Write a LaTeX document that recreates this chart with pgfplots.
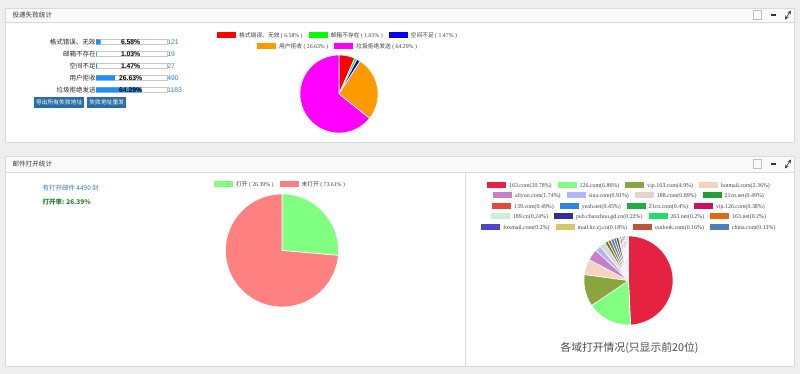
\documentclass[border=0pt]{standalone}
\usepackage{pgfplots}
\pgfplotsset{compat=1.18}
\usepackage{pgfplotstable}
\usepackage{fontspec}
\setmainfont{Noto Sans CJK SC}
\newfontfamily\serif{Liberation Serif}
\newfontfamily\arial{Liberation Sans}

\definecolor{bgcol}{HTML}{EEEEEE}
\definecolor{panelborder}{HTML}{D9D9D9}
\definecolor{headbg}{HTML}{FAFAFA}
\definecolor{barblue}{HTML}{1E8FF5}
\definecolor{linkblue}{HTML}{3A7BBF}
\definecolor{btnblue}{HTML}{2B6DA6}
\definecolor{okgreen}{HTML}{2E7D32}
% pie 1
\definecolor{pA}{HTML}{FF0000}
\definecolor{pB}{HTML}{00FF00}
\definecolor{pC}{HTML}{0000FF}
\definecolor{pD}{HTML}{FF9900}
\definecolor{pE}{HTML}{FF00FF}
% pie 2
\definecolor{oA}{HTML}{80FF80}
\definecolor{oB}{HTML}{FF8080}
% pie 3
\definecolor{d01}{HTML}{E62242}
\definecolor{d02}{HTML}{80FF80}
\definecolor{d03}{HTML}{8AA440}
\definecolor{d04}{HTML}{F5D3BD}
\definecolor{d05}{HTML}{C77FC8}
\definecolor{d06}{HTML}{B0B6FF}
\definecolor{d07}{HTML}{E3D4CC}
\definecolor{d08}{HTML}{1F9E3A}
\definecolor{d09}{HTML}{E84A3A}
\definecolor{d10}{HTML}{2F86E0}
\definecolor{d11}{HTML}{1FAE46}
\definecolor{d12}{HTML}{D0105C}
\definecolor{d13}{HTML}{CDEED8}
\definecolor{d14}{HTML}{3A2A98}
\definecolor{d15}{HTML}{1EE06A}
\definecolor{d16}{HTML}{E06A10}
\definecolor{d17}{HTML}{4A48C8}
\definecolor{d18}{HTML}{D2C868}
\definecolor{d19}{HTML}{C05438}
\definecolor{d20}{HTML}{4E80B8}

\pgfplotstableread{
row value count color
1 6.58 121 pA
2 1.03 19 pB
3 1.47 27 pC
4 26.63 490 pD
5 64.29 1183 pE
}\failtable

\pgfplotstableread{
value color
26.39 oA
73.61 oB
}\opentable

\pgfplotstableread{
domain value color
163.com 20.78 d01
126.com 6.86 d02
vip.163.com 4.9 d03
hotmail.com 2.36 d04
aliyun.com 1.74 d05
sina.com 0.91 d06
188.com 0.89 d07
21cn.net 0.49 d08
139.com 0.49 d09
yeah.net 0.45 d10
21cn.com 0.4 d11
vip.126.com 0.38 d12
189.cn 0.24 d13
pub.chaozhou.gd.cn 0.22 d14
263.net 0.2 d15
163.net 0.2 d16
foxmail.com 0.2 d17
mail.hz.zj.cn 0.18 d18
outlook.com 0.16 d19
china.com 0.13 d20
}\domaintable

% pie drawn from a table (column value, column color), clockwise from 12 o'clock
\newcommand\drawpie[1]{%
  \pgfplotstablegetrowsof{#1}%
  \pgfmathtruncatemacro\pien{\pgfplotsretval-1}%
  \def\pietot{0}%
  \pgfplotsforeachungrouped \i in {0,...,\pien}{%
    \pgfplotstablegetelem{\i}{value}\of{#1}%
    \pgfmathsetmacro\pietot{\pietot+\pgfplotsretval}%
  }%
  \def\piecum{0}%
  \pgfplotsforeachungrouped \i in {0,...,\pien}{%
    \pgfplotstablegetelem{\i}{value}\of{#1}\let\pieval\pgfplotsretval
    \pgfplotstablegetelem{\i}{color}\of{#1}\let\piecol\pgfplotsretval
    \pgfmathsetmacro\piefa{(\piecum+\pieval)/\pietot}%
    \pgfmathsetmacro\piefb{\piecum/\pietot}%
    \pgfmathsetmacro\piea{90-360*\piefa}%
    \pgfmathsetmacro\pieb{90-360*\piefb}%
    \edef\pietmp{\noexpand\addplot[fill=\piecol, draw=white, line width=0.6pt, line join=round, domain=\piea:\pieb, samples=60] ({cos(x)},{sin(x)}) -- (0,0) -- cycle;}%
    \pietmp
    \pgfmathsetmacro\piecum{\piecum+\pieval}%
  }%
}

\newcommand\lgd[2]{\textcolor{#1}{\rule[-0.6pt]{19pt}{6.2pt}}\hspace{3pt}#2}
\newcommand\lsep{\hspace{6pt}}
\newcommand\fsz[1]{\fontsize{#1}{#1}\selectfont}

\begin{document}
\begin{tikzpicture}
\begin{scope}[x=1pt,y=-1pt]
  \fill[bgcol] (0,0) rectangle (800,374);
  % ---------- top panel ----------
  \filldraw[fill=white, draw=panelborder] (5,8) rectangle (794,142);
  \filldraw[fill=headbg, draw=panelborder] (5,8) rectangle (794,22);
  \node[anchor=west, font=\fsz{6.6}, text=black!80] at (9,15) {投递失败统计};
  \draw[black!25] (753,10.5) rectangle (761.5,19.5);
  \draw[black!80, line width=1.2pt] (771,15) -- (776,15);
  \draw[black!80, line width=0.7pt, <->, >=stealth] (785,19.5) -- (791,10.5);
  % buttons
  \node[fill=btnblue, text=white, font=\fsz{5.8}, anchor=north west, minimum height=11pt, inner xsep=1.8pt, inner ysep=0pt] at (34,97) {导出所有失败地址};
  \node[fill=btnblue, text=white, font=\fsz{5.8}, anchor=north west, minimum height=11pt, inner xsep=2.2pt, inner ysep=0pt] at (87,97) {失败地址重发};
  % pie 1 legend
  \node[font=\fsz{5.8}, text=black!75] at (337,35.5) {\lgd{pA}{格式错误、无效 {\serif( 6.58\% )}}\lsep\lgd{pB}{邮箱不存在 {\serif( 1.03\% )}}\lsep\lgd{pC}{空间不足 {\serif( 1.47\% )}}};
  \node[font=\fsz{5.8}, text=black!75] at (337,46.5) {\lgd{pD}{用户拒收 {\serif( 26.63\% )}}\lsep\lgd{pE}{垃圾拒绝发送 {\serif( 64.29\% )}}};

  % ---------- bottom panel ----------
  \filldraw[fill=white, draw=panelborder] (5,156) rectangle (794,366);
  \filldraw[fill=headbg, draw=panelborder] (5,156) rectangle (794,172);
  \draw[panelborder] (465,172) -- (465,366);
  \node[anchor=west, font=\fsz{6.6}, text=black!80] at (9,164) {邮件打开统计};
  \draw[black!25] (753,159.5) rectangle (761.5,168.5);
  \draw[black!80, line width=1.2pt] (771,164) -- (776,164);
  \draw[black!80, line width=0.7pt, <->, >=stealth] (785,168.5) -- (791,159.5);
  \node[anchor=west, font=\fsz{6.5}, text=linkblue] at (39,188.5) {有打开邮件 4490 封};
  \node[anchor=west, font=\fsz{6.5}\bfseries, text=okgreen] at (39,202) {打开率: 26.39\%};
  % pie 2 legend
  \node[font=\fsz{5.8}, text=black!75] at (279.5,184.5) {\lgd{oA}{打开 {\serif( 26.39\% )}}\lsep\lgd{oB}{未打开 {\serif( 73.61\% )}}};
  % pie 3 legend
  \begin{scope}[every node/.style={font=\serif\fsz{5.9}, text=black!75}]
  \node at (628.5,185) {\lgd{d01}{163.com(20.78\%)}\lsep\lgd{d02}{126.com(6.86\%)}\lsep\lgd{d03}{vip.163.com(4.9\%)}\lsep\lgd{d04}{hotmail.com(2.36\%)}};
  \node at (628.5,195.5) {\lgd{d05}{aliyun.com(1.74\%)}\lsep\lgd{d06}{sina.com(0.91\%)}\lsep\lgd{d07}{188.com(0.89\%)}\lsep\lgd{d08}{21cn.net(0.49\%)}};
  \node at (628.5,206) {\lgd{d09}{139.com(0.49\%)}\lsep\lgd{d10}{yeah.net(0.45\%)}\lsep\lgd{d11}{21cn.com(0.4\%)}\lsep\lgd{d12}{vip.126.com(0.38\%)}};
  \node at (628.5,216.5) {\lgd{d13}{189.cn(0.24\%)}\lsep\lgd{d14}{pub.chaozhou.gd.cn(0.22\%)}\lsep\lgd{d15}{263.net(0.2\%)}\lsep\lgd{d16}{163.net(0.2\%)}};
  \node at (628.5,227) {\lgd{d17}{foxmail.com(0.2\%)}\lsep\lgd{d18}{mail.hz.zj.cn(0.18\%)}\lsep\lgd{d19}{outlook.com(0.16\%)}\lsep\lgd{d20}{china.com(0.13\%)}};
  \end{scope}
  \node[font=\fsz{10.8}, text=black!70] at (629.5,347.5) {各域打开情况(只显示前20位)};
\end{scope}

% ---------- failure bars ----------
\begin{axis}[at={(96pt,-36pt)}, anchor=north west, scale only axis,
  width=70.7pt, height=60pt, xmin=0, xmax=100, ymin=0.5, ymax=5.5,
  y dir=reverse, enlargelimits=false, clip=false,
  axis line style={draw=none}, xtick=\empty, ytick={1,2,3,4,5},
  yticklabels={格式错误、无效,邮箱不存在,空间不足,用户拒收,垃圾拒绝发送},
  major tick length=0pt,
  yticklabel style={font=\fsz{6.5}, text=black!85, inner sep=0.3pt},
  xbar, bar width=5pt, bar shift=0pt]
  \addplot[fill=white, draw=black!22] coordinates {(100,1) (100,2) (100,3) (100,4) (100,5)};
  \addplot[fill=barblue, draw=none] table[x=value, y=row] {\failtable};
  \node[font=\arial\bfseries\fsz{6.8}] at (axis cs:49,1) {6.58\%};
  \node[font=\arial\bfseries\fsz{6.8}] at (axis cs:49,2) {1.03\%};
  \node[font=\arial\bfseries\fsz{6.8}] at (axis cs:49,3) {1.47\%};
  \node[font=\arial\bfseries\fsz{6.8}] at (axis cs:49,4) {26.63\%};
  \node[font=\arial\bfseries\fsz{6.8}] at (axis cs:49,5) {64.29\%};
  \node[anchor=west, inner sep=0.5pt, font=\arial\fsz{6.8}, text=linkblue] at (axis cs:100,1) {121};
  \node[anchor=west, inner sep=0.5pt, font=\arial\fsz{6.8}, text=linkblue] at (axis cs:100,2) {19};
  \node[anchor=west, inner sep=0.5pt, font=\arial\fsz{6.8}, text=linkblue] at (axis cs:100,3) {27};
  \node[anchor=west, inner sep=0.5pt, font=\arial\fsz{6.8}, text=linkblue] at (axis cs:100,4) {490};
  \node[anchor=west, inner sep=0.5pt, font=\arial\fsz{6.8}, text=linkblue] at (axis cs:100,5) {1183};
\end{axis}

% ---------- pie 1 ----------
\begin{axis}[at={(339pt,-94pt)}, anchor=center, scale only axis, width=78pt, height=78pt,
  xmin=-1, xmax=1, ymin=-1, ymax=1, hide axis, clip=false]
  \drawpie{\failtable}
\end{axis}

% ---------- pie 2 ----------
\begin{axis}[at={(282pt,-250.5pt)}, anchor=center, scale only axis, width=113pt, height=113pt,
  xmin=-1, xmax=1, ymin=-1, ymax=1, hide axis, clip=false]
  \drawpie{\opentable}
\end{axis}

% ---------- pie 3 ----------
\begin{axis}[at={(628.5pt,-280.5pt)}, anchor=center, scale only axis, width=89pt, height=89pt,
  xmin=-1, xmax=1, ymin=-1, ymax=1, hide axis, clip=false]
  \drawpie{\domaintable}
\end{axis}

\pgfresetboundingbox
\path[use as bounding box] (0,0) rectangle (800pt,-374pt);
\end{tikzpicture}
\end{document}
